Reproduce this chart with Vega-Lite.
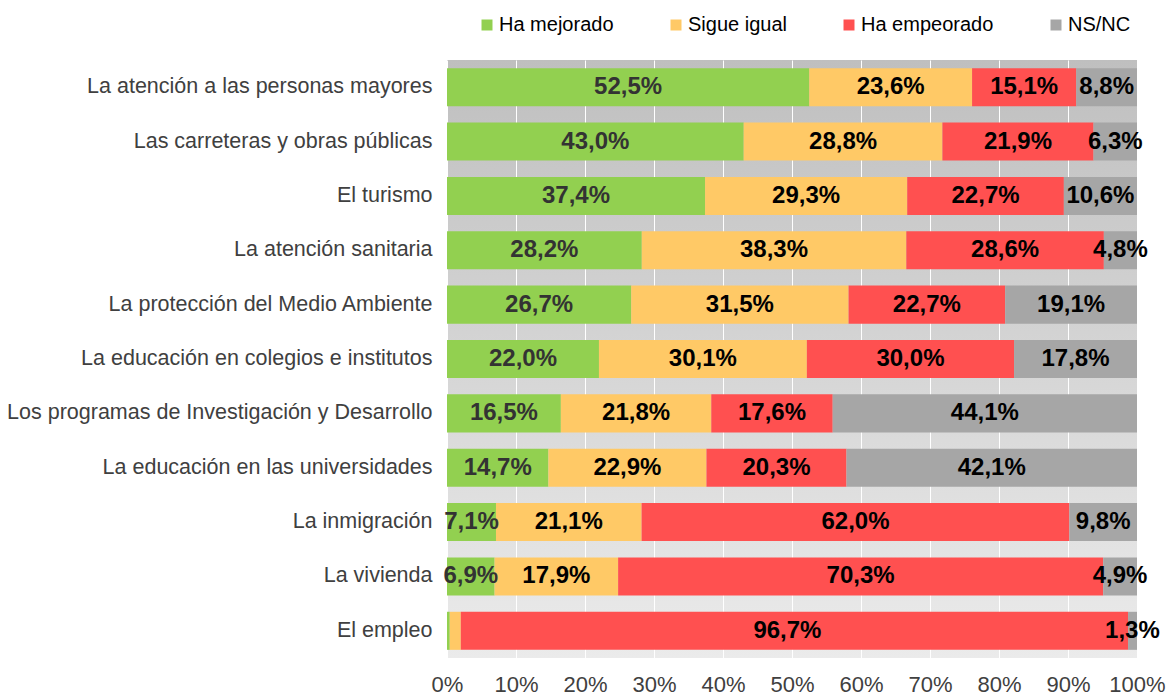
{
  "$schema": "https://vega.github.io/schema/vega-lite/v6.json",
  "width": 690,
  "height": 598,
  "padding": {"left": 447, "top": 60, "right": 32, "bottom": 39},
  "autosize": {"type": "none"},
  "background": "white",
  "config": {
    "font": "Liberation Sans",
    "locale": {"number": {"decimal": ",", "thousands": ".", "grouping": [3], "currency": ["", " €"]}},
    "view": {
      "stroke": null,
      "fill": {"gradient": "linear", "x1": 0, "y1": 0, "x2": 0, "y2": 1, "stops": [{"offset": 0, "color": "#bfbfbf"}, {"offset": 1, "color": "#ebebeb"}]}
    }
  },
  "data": {
    "values": [
      {"item": "La atención a las personas mayores", "answer": "Ha mejorado", "v": 0.525},
      {"item": "La atención a las personas mayores", "answer": "Sigue igual", "v": 0.236},
      {"item": "La atención a las personas mayores", "answer": "Ha empeorado", "v": 0.151},
      {"item": "La atención a las personas mayores", "answer": "NS/NC", "v": 0.088},
      {"item": "Las carreteras y obras públicas", "answer": "Ha mejorado", "v": 0.430},
      {"item": "Las carreteras y obras públicas", "answer": "Sigue igual", "v": 0.288},
      {"item": "Las carreteras y obras públicas", "answer": "Ha empeorado", "v": 0.219},
      {"item": "Las carreteras y obras públicas", "answer": "NS/NC", "v": 0.063},
      {"item": "El turismo", "answer": "Ha mejorado", "v": 0.374},
      {"item": "El turismo", "answer": "Sigue igual", "v": 0.293},
      {"item": "El turismo", "answer": "Ha empeorado", "v": 0.227},
      {"item": "El turismo", "answer": "NS/NC", "v": 0.106},
      {"item": "La atención sanitaria", "answer": "Ha mejorado", "v": 0.282},
      {"item": "La atención sanitaria", "answer": "Sigue igual", "v": 0.383},
      {"item": "La atención sanitaria", "answer": "Ha empeorado", "v": 0.286},
      {"item": "La atención sanitaria", "answer": "NS/NC", "v": 0.048},
      {"item": "La protección del Medio Ambiente", "answer": "Ha mejorado", "v": 0.267},
      {"item": "La protección del Medio Ambiente", "answer": "Sigue igual", "v": 0.315},
      {"item": "La protección del Medio Ambiente", "answer": "Ha empeorado", "v": 0.227},
      {"item": "La protección del Medio Ambiente", "answer": "NS/NC", "v": 0.191},
      {"item": "La educación en colegios e institutos", "answer": "Ha mejorado", "v": 0.220},
      {"item": "La educación en colegios e institutos", "answer": "Sigue igual", "v": 0.301},
      {"item": "La educación en colegios e institutos", "answer": "Ha empeorado", "v": 0.300},
      {"item": "La educación en colegios e institutos", "answer": "NS/NC", "v": 0.178},
      {"item": "Los programas de Investigación y Desarrollo", "answer": "Ha mejorado", "v": 0.165},
      {"item": "Los programas de Investigación y Desarrollo", "answer": "Sigue igual", "v": 0.218},
      {"item": "Los programas de Investigación y Desarrollo", "answer": "Ha empeorado", "v": 0.176},
      {"item": "Los programas de Investigación y Desarrollo", "answer": "NS/NC", "v": 0.441},
      {"item": "La educación en las universidades", "answer": "Ha mejorado", "v": 0.147},
      {"item": "La educación en las universidades", "answer": "Sigue igual", "v": 0.229},
      {"item": "La educación en las universidades", "answer": "Ha empeorado", "v": 0.203},
      {"item": "La educación en las universidades", "answer": "NS/NC", "v": 0.421},
      {"item": "La inmigración", "answer": "Ha mejorado", "v": 0.071},
      {"item": "La inmigración", "answer": "Sigue igual", "v": 0.211},
      {"item": "La inmigración", "answer": "Ha empeorado", "v": 0.620},
      {"item": "La inmigración", "answer": "NS/NC", "v": 0.098},
      {"item": "La vivienda", "answer": "Ha mejorado", "v": 0.069},
      {"item": "La vivienda", "answer": "Sigue igual", "v": 0.179},
      {"item": "La vivienda", "answer": "Ha empeorado", "v": 0.703},
      {"item": "La vivienda", "answer": "NS/NC", "v": 0.049},
      {"item": "El empleo", "answer": "Ha mejorado", "v": 0.004},
      {"item": "El empleo", "answer": "Sigue igual", "v": 0.016},
      {"item": "El empleo", "answer": "Ha empeorado", "v": 0.967},
      {"item": "El empleo", "answer": "NS/NC", "v": 0.013}
    ]
  },
  "transform": [
    {"calculate": "indexof(['Ha mejorado','Sigue igual','Ha empeorado','NS/NC'], datum.answer)", "as": "ord"}
  ],
  "encoding": {
    "y": {
      "field": "item", "type": "nominal", "sort": null,
      "scale": {"paddingInner": 0.3, "paddingOuter": 0.15},
      "axis": {"title": null, "domain": false, "ticks": false, "labelPadding": 15, "labelFontSize": 21.5, "labelColor": "#404040", "labelLimit": 500}
    }
  },
  "layer": [
    {
      "mark": {"type": "bar"},
      "encoding": {
        "x": {
          "field": "v", "type": "quantitative", "stack": "normalize",
          "scale": {"domain": [0, 1]},
          "axis": {"title": null, "format": ".0%", "values": [0, 0.1, 0.2, 0.3, 0.4, 0.5, 0.6, 0.7, 0.8, 0.9, 1], "domain": false, "ticks": false, "gridColor": "white", "gridOpacity": 1, "gridWidth": 1, "labelFontSize": 22, "labelColor": "#404040", "labelPadding": 16, "labelFlush": false}
        },
        "color": {
          "field": "answer", "type": "nominal",
          "scale": {"domain": ["Ha mejorado", "Sigue igual", "Ha empeorado", "NS/NC"], "range": ["#92d050", "#ffc966", "#ff5050", "#a6a6a6"]},
          "legend": {"title": null, "orient": "none", "direction": "horizontal", "legendX": 30, "legendY": -45, "symbolType": "square", "symbolSize": 121, "symbolStrokeWidth": 0, "symbolOpacity": 1, "labelFontSize": 20, "labelColor": "#000000", "labelOffset": 2, "columnPadding": 52, "labelLimit": 300}
        },
        "order": {"field": "ord", "type": "quantitative"}
      }
    },
    {
      "transform": [{"filter": "!(datum.item == 'El empleo' && (datum.answer == 'Ha mejorado' || datum.answer == 'Sigue igual'))"}],
      "mark": {"type": "text", "fontWeight": "bold", "fontSize": 24, "align": "center", "baseline": "middle"},
      "encoding": {
        "x": {"field": "v", "type": "quantitative", "stack": "normalize", "bandPosition": 0.5},
        "detail": {"field": "answer"},
        "text": {"field": "v", "type": "quantitative", "format": ".1%"},
        "color": {"condition": {"test": "datum.answer == 'Ha mejorado'", "value": "#333333"}, "value": "#000000"},
        "order": {"field": "ord", "type": "quantitative"}
      }
    }
  ]
}
